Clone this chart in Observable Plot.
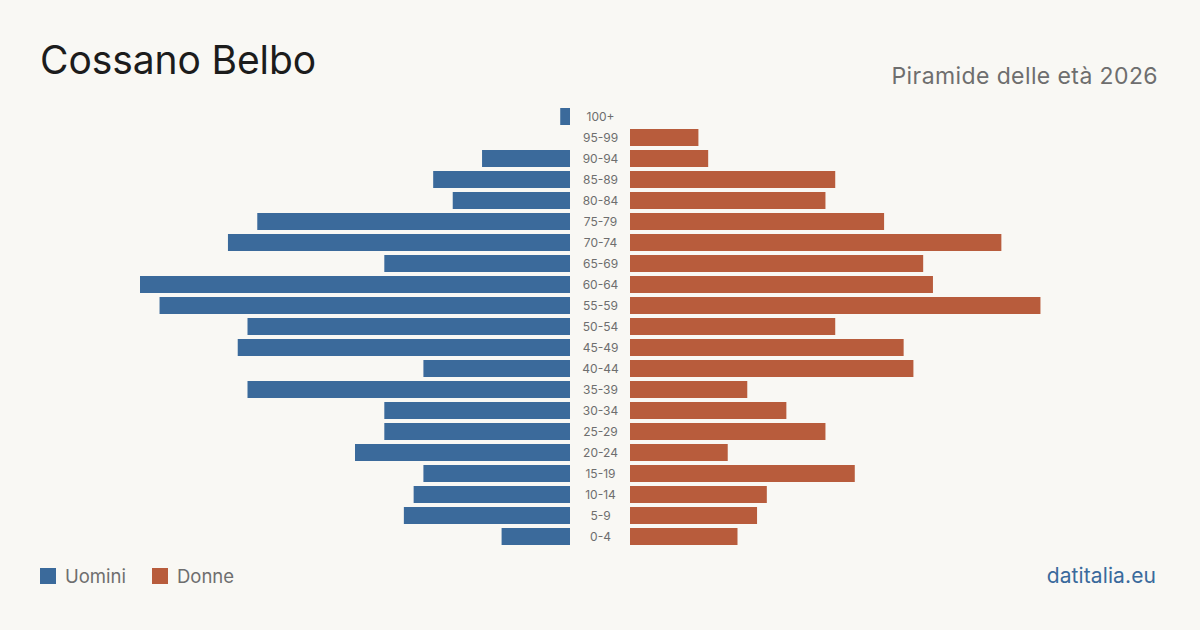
<!DOCTYPE html>
<html>
<head>
<meta charset="utf-8">
<script src="https://cdn.jsdelivr.net/npm/d3@7"></script>
<script src="https://cdn.jsdelivr.net/npm/@observablehq/plot@0.6"></script>
<style>
  html, body { margin: 0; padding: 0; }
  body { width: 1200px; height: 630px; background: #f9f8f4; font-family: Inter, "Noto Sans", sans-serif; overflow: hidden; }
  #page { position: relative; width: 1200px; height: 630px; }
  #chart { position: absolute; left: 0; top: 0; }
  .title { position: absolute; left: 40px; top: 40px; font-size: 39px; color: #1c1c1c; line-height: 1; letter-spacing: -0.1px; }
  .subtitle { position: absolute; right: 42px; top: 65px; font-size: 23px; color: #6e6e6e; line-height: 1; letter-spacing: 0.4px; }
  .legend { position: absolute; left: 40px; top: 566px; display: flex; align-items: center; font-size: 18.5px; color: #6e6e6e; line-height: 20px; }
  .legend .sw { width: 16px; height: 16px; display: inline-block; margin-right: 9px; }
  .legend .item { display: flex; align-items: center; margin-right: 26px; }
  .source { position: absolute; right: 44px; top: 565px; font-size: 21px; color: #3a6a9c; line-height: 1; letter-spacing: 0.1px; }
</style>
</head>
<body>
<div id="page">
  <div id="chart"></div>
  <div class="title">Cossano Belbo</div>
  <div class="subtitle">Piramide delle età 2026</div>
  <div class="legend">
    <span class="item"><span class="sw" style="background:#3b6a9b"></span>Uomini</span>
    <span class="item"><span class="sw" style="background:#b85c3c"></span>Donne</span>
  </div>
  <div class="source">datitalia.eu</div>
</div>
<script>
// Age classes, oldest at the top
const ageClasses = ["100+", "95-99", "90-94", "85-89", "80-84", "75-79", "70-74", "65-69", "60-64", "55-59",
  "50-54", "45-49", "40-44", "35-39", "30-34", "25-29", "20-24", "15-19", "10-14", "5-9", "0-4"];
// Residents per class
const men   = [1, 0, 9, 14, 12, 32, 35, 19, 44, 42, 33, 34, 15, 33, 19, 19, 22, 15, 16, 17, 7];
const women = [0, 7, 8, 21, 20, 26, 38, 30, 31, 42, 21, 28, 29, 12, 16, 20, 10, 23, 14, 13, 11];

const MEN_COLOR = "#3b6a9b";
const WOMEN_COLOR = "#b85c3c";

const rows = ageClasses.map((age, i) => ({age, men: men[i], women: women[i]}));
const maxValue = d3.max([...men, ...women]);
const gap = 30; // half of the central strip holding the age labels

const chart = Plot.plot({
  width: 1200,
  height: 630,
  marginLeft: 170,
  marginRight: 170,
  style: {background: "transparent", fontFamily: "Inter, 'Noto Sans', sans-serif"},
  x: {domain: [-maxValue, maxValue], axis: null},
  y: {domain: ageClasses, range: [108, 545], paddingInner: 4 / 21, paddingOuter: 0, axis: null},
  marks: [
    Plot.barX(rows.filter(d => d.men > 0), {x: d => -d.men, y: "age", fill: MEN_COLOR, dx: -gap}),
    Plot.barX(rows.filter(d => d.women > 0), {x: "women", y: "age", fill: WOMEN_COLOR, dx: gap}),
    Plot.text(rows, {x: 0, y: "age", text: "age", fill: "#6e6e6e", fontSize: 12, textAnchor: "middle"})
  ]
});
document.getElementById("chart").appendChild(chart);
</script>
</body>
</html>
